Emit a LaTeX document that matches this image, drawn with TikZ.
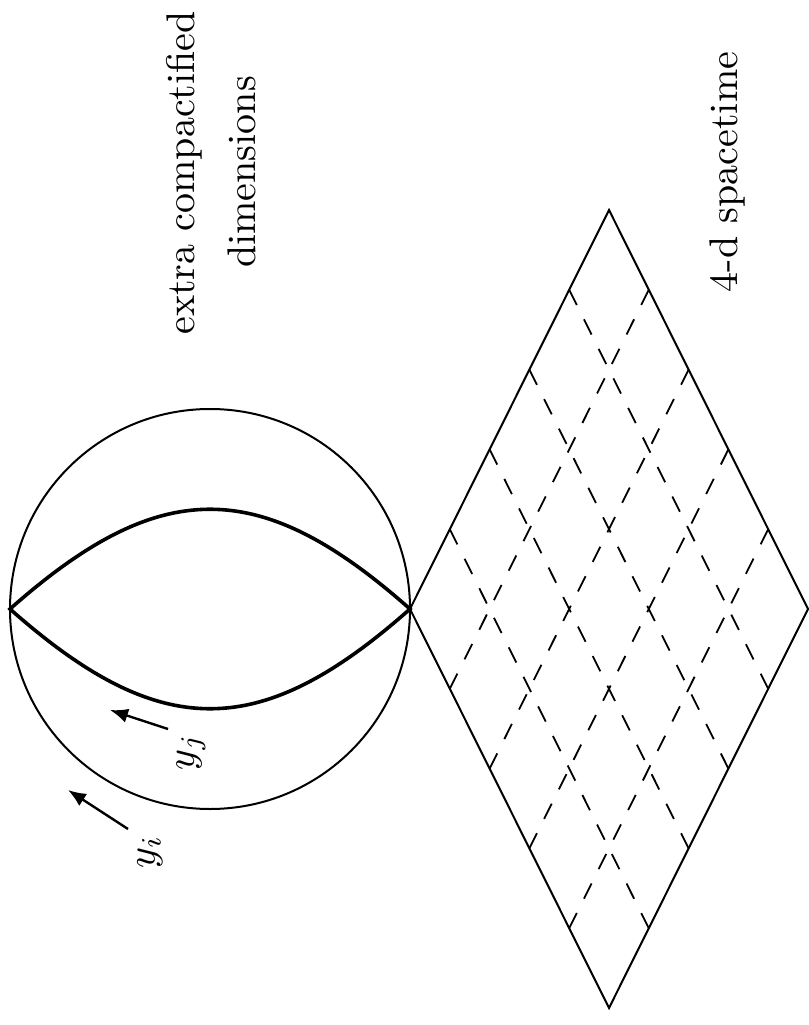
\documentclass[tikz,border=0pt]{standalone}
\usetikzlibrary{arrows.meta,calc}
\begin{document}
\begin{tikzpicture}[x=0.25pt,y=-0.25pt,
  edge/.style={line width=0.5pt},
  gridline/.style={line width=0.45pt, dash pattern=on 4.25pt off 4pt},
  lens/.style={line width=0.9pt, line join=miter},
  arr/.style={line width=0.6pt,-{Latex[length=4.5pt,width=3.6pt]}},
  lbl/.style={rotate=90,inner sep=0pt}]
\useasboundingbox (0,0) rectangle (809,1025);
% key points
\coordinate (C) at (210,609);
\coordinate (W) at (10,609);
\coordinate (L) at (410,609);
\coordinate (T) at (609,210);
\coordinate (R) at (808,609);
\coordinate (B) at (609,1008);
% compact dimensions
\draw[edge] (C) circle[radius=200];
\draw[lens] (W) .. controls (160,476) and (260,476) .. (L)
            .. controls (260,742) and (160,742) .. (W) -- cycle;
% spacetime diamond
\draw[edge] (L) -- (T) -- (R) -- (B) -- cycle;
\foreach \k in {1,...,4} {
  \draw[gridline] ($(L)!\k/5!(B)$) -- ($(T)!\k/5!(R)$);
  \draw[gridline] ($(L)!\k/5!(T)$) -- ($(B)!\k/5!(R)$);
}
% arrows and labels
\node[lbl] (yj) at (191,752) {$y_j$};
\node[lbl] (yi) at (150,852) {$y_i$};
\coordinate (yjtail) at (168,729);
\coordinate (yjtip) at (110,710);
\coordinate (yitail) at (128,829);
\coordinate (yitip) at (68,790);
\draw[arr] (yjtail) -- (yjtip);
\draw[arr] (yitail) -- (yitip);
% texts
\node[lbl] (t1) at (184,173) {extra compactified};
\node[lbl] (t2) at (242,172) {dimensions};
\node[lbl] (t3) at (727,172) {4-d spacetime};
\end{tikzpicture}
\end{document}
